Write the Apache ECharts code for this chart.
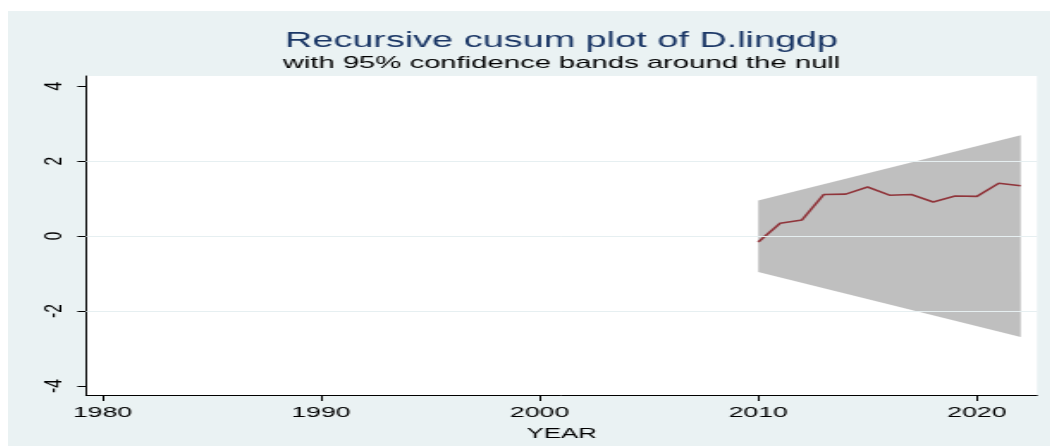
<!DOCTYPE html>
<html>
<head>
<meta charset="utf-8">
<script src="https://cdn.jsdelivr.net/npm/echarts@6/dist/echarts.min.js"></script>
<style>
  html, body { margin: 0; padding: 0; background: #ffffff; width: 1050px; height: 446px; overflow: hidden; }
  #chart { position: absolute; left: 8px; top: 11px; width: 606px; height: 435px;
           transform: scaleX(1.72); transform-origin: 0 0; }
</style>
</head>
<body>
<div id="chart"></div>
<script>
// ---- data ----
const titleText = 'Recursive cusum plot of D.lingdp';
const subtitleText = 'with 95% confidence bands around the null';
const xAxisName = 'YEAR';
const years = [2010, 2011, 2012, 2013, 2014, 2015, 2016, 2017, 2018, 2019, 2020, 2021, 2022];
const cusum = [-0.16, 0.34, 0.43, 1.11, 1.12, 1.31, 1.09, 1.11, 0.91, 1.07, 1.06, 1.41, 1.34];
const bandYears = [2010, 2022];
const bandUpper = [0.95, 2.69];
const bandLower = [-0.96, -2.69];
const xTicks = [1980, 1990, 2000, 2010, 2020];
const yTicks = [-4, -2, 0, 2, 4];
const gridValues = [-2, 0, 2];

const FONT = "'Liberation Sans', Arial, sans-serif";
const chart = echarts.init(document.getElementById('chart'), null, { renderer: 'canvas' });

chart.setOption({
  animation: false,
  backgroundColor: '#eaf2f3',
  title: [
    { text: titleText, left: 321.8, top: 19, padding: 0, textAlign: 'center',
      textStyle: { fontFamily: FONT, fontSize: 22, fontWeight: 'normal', color: '#1b3766' } },
    { text: subtitleText, left: 321.8, top: 43.5, padding: 0, textAlign: 'center',
      textStyle: { fontFamily: FONT, fontSize: 17, fontWeight: 'normal', color: '#000000' } }
  ],
  grid: { left: 45.35, right: 7.74, top: 65, bottom: 51, show: true,
          backgroundColor: '#ffffff', borderWidth: 0, containLabel: false },
  xAxis: {
    type: 'value', min: 1979.25, max: 2022.75,
    name: xAxisName, nameLocation: 'middle', nameGap: 23.5,
    nameTextStyle: { fontFamily: FONT, fontSize: 15, color: '#000000' },
    axisLine: { show: true, onZero: false, lineStyle: { color: '#000000', width: 1 } },
    axisTick: { show: true, length: 6, customValues: xTicks, lineStyle: { color: '#000000', width: 1 } },
    axisLabel: { customValues: xTicks, margin: 10, fontFamily: FONT, fontSize: 15.5, color: '#000000',
                 formatter: v => String(v) },
    splitLine: { show: false }
  },
  yAxis: {
    type: 'value', min: -4.24, max: 4.27,
    axisLine: { show: true, onZero: false, lineStyle: { color: '#000000', width: 1 } },
    axisTick: { show: true, length: 5, customValues: yTicks, lineStyle: { color: '#000000', width: 1 } },
    axisLabel: { customValues: yTicks, rotate: 90, margin: 10.5, fontFamily: FONT, fontSize: 15.5, color: '#000000',
                 formatter: v => String(v) },
    splitLine: { show: false }
  },
  series: [
    {
      type: 'line', z: 1, data: [], silent: true,
      markLine: {
        silent: true, symbol: ['none', 'none'], animation: false,
        label: { show: false },
        lineStyle: { color: '#e6eff1', width: 1, type: 'solid' },
        data: gridValues.map(v => ({ yAxis: v }))
      }
    },
    {
      type: 'custom', z: 2, silent: true,
      data: bandYears.map((y, i) => [y, bandLower[i], bandUpper[i]]),
      encode: { x: 0, y: [1, 2] },
      renderItem: function (params, api) {
        if (params.dataIndex !== 0) return null;
        const pts = [];
        for (let i = 0; i < bandYears.length; i++) pts.push(api.coord([bandYears[i], bandUpper[i]]));
        for (let i = bandYears.length - 1; i >= 0; i--) pts.push(api.coord([bandYears[i], bandLower[i]]));
        return { type: 'polygon', shape: { points: pts }, style: { fill: '#bfbfbf' } };
      }
    },
    {
      type: 'line', z: 3, silent: true,
      data: years.map((y, i) => [y, cusum[i]]),
      symbol: 'none', showSymbol: false,
      lineStyle: { color: '#90353b', width: 1.6 }
    }
  ]
});
</script>
</body>
</html>
